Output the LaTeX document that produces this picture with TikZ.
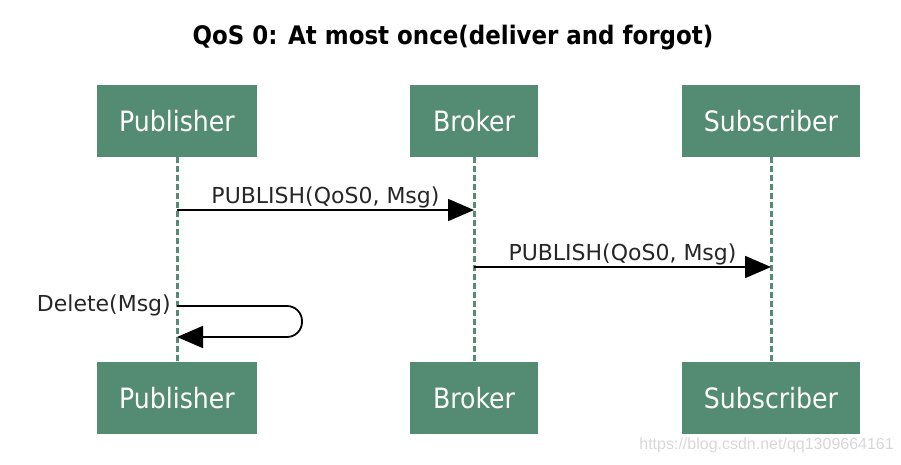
\documentclass[tikz,border=0pt]{standalone}
\usepackage{fontspec}
\setmainfont{DejaVu Sans Condensed}
\newfontfamily\lblfont{DejaVu Sans}
\newfontfamily\wmfont{Liberation Sans}
\usetikzlibrary{arrows.meta}
\definecolor{boxgreen}{HTML}{538B73}
\definecolor{wmgray}{HTML}{D8D8D8}
\begin{document}
\begin{tikzpicture}[x=1pt,y=-1pt,
  actor/.style={fill=boxgreen, minimum width=#1, minimum height=72pt, inner sep=0pt,
    text=white, font=\fontsize{28}{30}\selectfont},
  life/.style={boxgreen, line width=3pt, dash pattern=on 6pt off 3pt},
  msg/.style={line width=1.8pt, -{Triangle[length=26pt,width=22pt]}},
  lbl/.style={font=\lblfont\fontsize{22}{24}\selectfont, inner sep=0pt, text=black!85}]
\useasboundingbox (0,0) rectangle (901,465);
\node[font=\bfseries\fontsize{25.5}{28}\selectfont] (title) at (453,38) {QoS 0: At most once(deliver and forgot)};
\node[actor=160pt] (pubT) at (177,121) {Publisher};
\node[actor=128pt] (broT) at (474,121) {Broker};
\node[actor=178pt] (subT) at (771,121) {Subscriber};
\node[actor=160pt] (pubB) at (177,398) {Publisher};
\node[actor=128pt] (broB) at (474,398) {Broker};
\node[actor=178pt] (subB) at (771,398) {Subscriber};
\draw[life] (pubT.south) -- (pubB.north);
\draw[life] (broT.south) -- (broB.north);
\draw[life] (subT.south) -- (subB.north);
\coordinate (p1) at (177,210);
\coordinate (b1) at (474,210);
\coordinate (b2) at (474,267);
\coordinate (s2) at (771,267);
\draw[msg] (p1) -- node[lbl, above=1pt, anchor=south] (m1) {PUBLISH(QoS0, Msg)} (b1);
\draw[msg] (b2) -- node[lbl, above=1pt, anchor=south] (m2) {PUBLISH(QoS0, Msg)} (s2);
\coordinate (d1) at (177,306);
\coordinate (d2) at (177,337);
\draw[msg, rounded corners=15pt] (d1) -- (302,306) -- (302,337) -- (d2);
\node[lbl, anchor=east] (dl) at (171,305) {Delete(Msg)};
\node[font=\wmfont\fontsize{16}{18}\selectfont, text=wmgray, anchor=east, inner sep=0pt] (wm) at (894,445) {https://blog.csdn.net/qq1309664161};
\end{tikzpicture}
\end{document}
